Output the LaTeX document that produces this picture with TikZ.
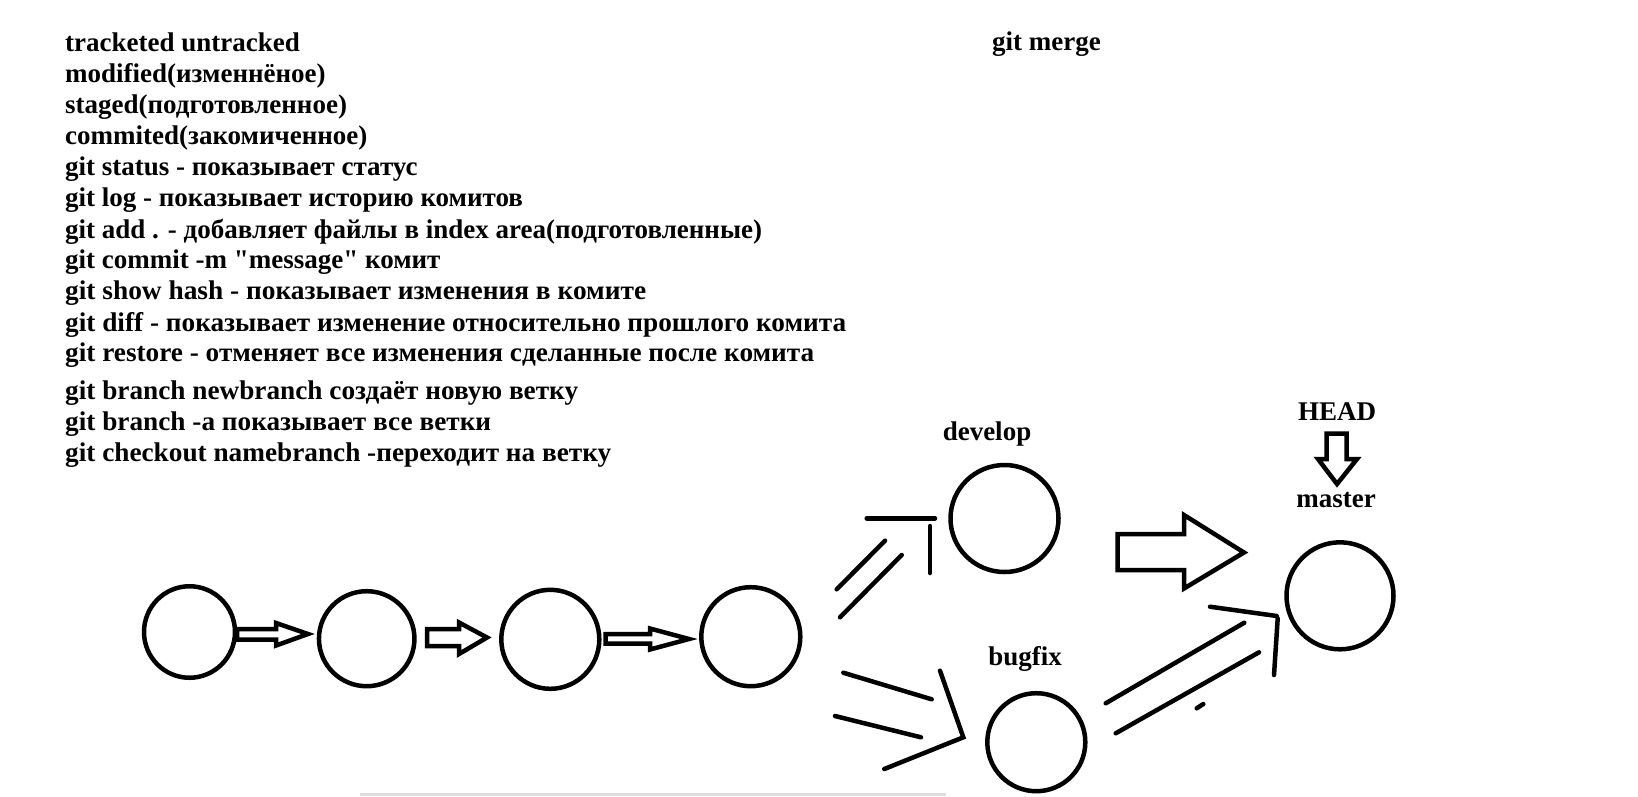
\documentclass[tikz,border=0pt]{standalone}
\usepackage{fontspec}
\setmainfont{Liberation Serif}[Ligatures=TeXOff]
\usepackage{graphicx}
\usetikzlibrary{shapes.geometric}
\newcommand\fitw[2]{\resizebox{#1pt}{\height}{#2}}
\begin{document}
\begin{tikzpicture}[x=1pt,y=-1pt,
  txt/.style={anchor=base west,inner sep=0pt,font=\bfseries\fontsize{27}{30}\selectfont},
  lbl/.style={anchor=base,inner sep=0pt,font=\bfseries\fontsize{27}{30}\selectfont},
  commit/.style={draw,ellipse,line width=4.5pt,inner sep=0pt},
  blk/.style={draw,line width=4.5pt,line join=miter},
  stroke/.style={draw,line width=4.5pt,line cap=round,line join=miter}]
\useasboundingbox (0,0) rectangle (1638,796);
\fill[white] (0,0) rectangle (1638,796);
% text block
\node[txt] (t1) at (65,51) {tracketed untracked};
\node[txt] (t2) at (65,82) {modified(изменнёное)};
\node[txt] (t3) at (65,113.5) {staged(подготовленное)};
\node[txt] (t4) at (65,144) {commited(закомиченное)};
\node[txt] (t5) at (65,175) {git status - показывает статус};
\node[txt] (t6) at (65,206.5) {git log - показывает историю комитов};
\node[txt] (t7) at (65,238) {git add . - добавляет файлы в index area(подготовленные)};
\node[txt] (t8) at (65,268) {git commit -m "message" комит};
\node[txt] (t9) at (65,299.5) {\fitw{581}{git show hash - показывает изменения в комите}};
\node[txt] (t10) at (65,331) {\fitw{781}{git diff - показывает изменение относительно прошлого комита}};
\node[txt] (t11) at (65,361) {\fitw{749}{git restore - отменяет все изменения сделанные после комита}};
\node[txt] (t12) at (65,399.5) {\fitw{513}{git branch newbranch создаёт новую ветку}};
\node[txt] (t13) at (65,430) {\fitw{426}{git branch -a показывает все ветки}};
\node[txt] (t14) at (65,461) {\fitw{546}{git checkout namebranch -переходит на ветку}};
\node[txt] (merge) at (992,50) {git merge};
% commits
\node[commit,minimum width=91pt,minimum height=91.5pt] (c1) at (189.5,632) {};
\node[commit,minimum width=95.5pt,minimum height=95pt] (c2) at (366.7,638.7) {};
\node[commit,minimum width=98pt,minimum height=99pt] (c3) at (550.3,639.3) {};
\node[commit,minimum width=99pt,minimum height=99pt] (c4) at (750.8,636.7) {};
\node[commit,minimum width=108pt,minimum height=107pt] (dev) at (1004.5,518.5) {};
\node[commit,minimum width=98pt,minimum height=98pt] (bug) at (1036.3,742.2) {};
\node[commit,minimum width=107pt,minimum height=107pt] (mas) at (1340,595.8) {};
% labels
\node[lbl] (ldev) at (987,440) {develop};
\node[lbl] (lbug) at (1025,665) {bugfix};
\node[lbl] (lhead) at (1337,420.7) {HEAD};
\node[lbl] (lmas) at (1336,507.3) {master};
% block arrows between commits
\draw[blk] (237,629) -- (276,629) -- (276,623) -- (308,634) -- (276,645.5) -- (276,639.5) -- (237,639.5) -- cycle;
\draw[blk] (427,629) -- (459,629) -- (459,622.5) -- (487,637.5) -- (459,654) -- (459,646) -- (427,646) -- cycle;
\draw[blk] (605.5,634) -- (650,634) -- (650,628.5) -- (689,639) -- (650,649.5) -- (650,643.7) -- (605.5,643.7) -- cycle;
% big merge arrow
\draw[blk] (1117.5,534) -- (1184,534) -- (1184,515) -- (1244,552.5) -- (1184,588.5) -- (1184,570) -- (1117.5,570) -- cycle;
% HEAD arrow
\draw[blk] (1326.5,433.5) -- (1346.5,433.5) -- (1346.5,459) -- (1357,459) -- (1337,484) -- (1318,459) -- (1326.5,459) -- cycle;
% hand strokes towards develop
\draw[stroke] (866.7,518.3) -- (935,518.3);
\draw[stroke] (930,526) -- (930,573);
\draw[stroke] (836.7,589.3) -- (885,540.7);
\draw[stroke] (840,617.3) -- (901.7,555);
% hand strokes towards bugfix
\draw[stroke] (843.3,672.7) -- (931.7,699.3);
\draw[stroke] (835,716) -- (921,737.3);
\draw[stroke] (940,670.7) -- (963.3,737.3) -- (884.3,769);
% hand strokes bugfix -> master
\draw[stroke] (1105.7,703.3) -- (1244.3,622.7);
\draw[stroke] (1115.7,733.3) -- (1259,652.3);
\draw[stroke] (1210,606.7) -- (1276.7,616);
\draw[stroke] (1277.7,618.3) -- (1274,675);
\draw[stroke] (1196.7,708.3) -- (1203.3,704);
% faint bottom line
\draw[gray!25,line width=3pt] (360,794.5) -- (946,794.5);
\end{tikzpicture}
\end{document}
